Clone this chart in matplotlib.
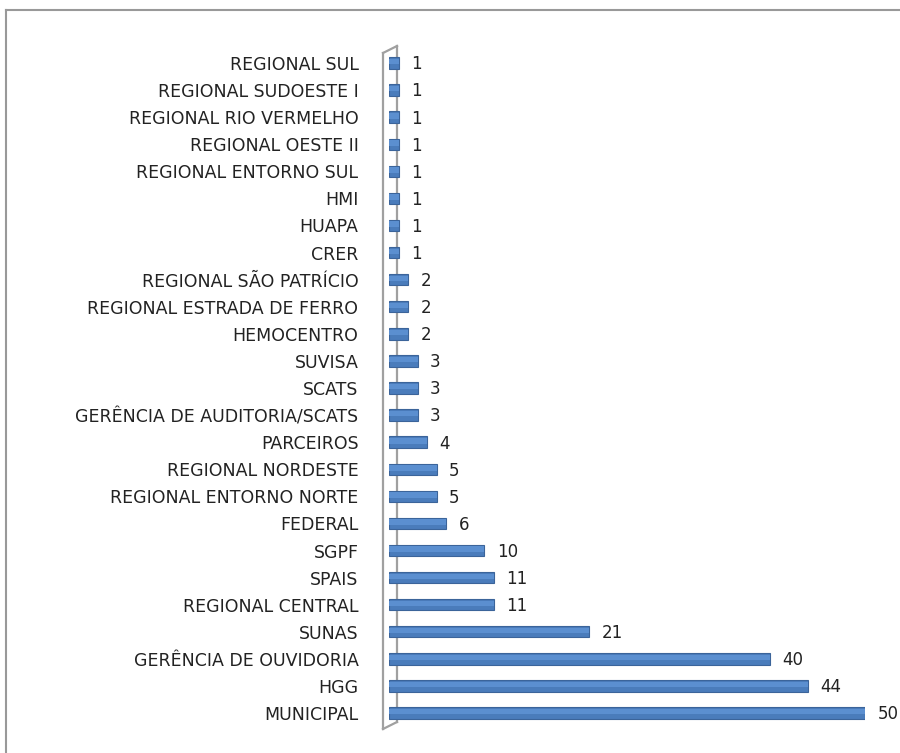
import matplotlib.pyplot as plt
from matplotlib.lines import Line2D

categories = [
    "MUNICIPAL", "HGG", "GERÊNCIA DE OUVIDORIA", "SUNAS", "REGIONAL CENTRAL",
    "SPAIS", "SGPF", "FEDERAL", "REGIONAL ENTORNO NORTE", "REGIONAL NORDESTE",
    "PARCEIROS", "GERÊNCIA DE AUDITORIA/SCATS", "SCATS", "SUVISA", "HEMOCENTRO",
    "REGIONAL ESTRADA DE FERRO", "REGIONAL SÃO PATRÍCIO", "CRER", "HUAPA", "HMI",
    "REGIONAL ENTORNO SUL", "REGIONAL OESTE II", "REGIONAL RIO VERMELHO",
    "REGIONAL SUDOESTE I", "REGIONAL SUL",
]
values = [50, 44, 40, 21, 11, 11, 10, 6, 5, 5, 4, 3, 3, 3, 2, 2, 2, 1, 1, 1, 1, 1, 1, 1, 1]

plt.rcParams["font.family"] = ["DejaVu Sans"]

W, H = 900, 753
fig = plt.figure(figsize=(W / 100, H / 100), dpi=100)

# axes placed so that 0 sits at x=389px and 50 at x=865px
x0, x50 = 389, 865
y_top, y_bot = 63, 713
step = (y_bot - y_top) / (len(categories) - 1)
ax = fig.add_axes([x0 / W, (H - (y_bot + 0.7 * step)) / H,
                   (x50 - x0) / W, (y_bot - y_top + 1.4 * step) / H])

pos = range(len(categories))
ax.barh(pos, values, height=0.42, color="#4a7cbb", edgecolor="#3b649a", linewidth=0.8, zorder=3)
ax.barh([p + 0.05 for p in pos], values, height=0.2, color="#5b8fd0", linewidth=0, zorder=4)

for p, v in zip(pos, values):
    ax.annotate(str(v), (v, p), xytext=(9, -1), textcoords="offset points",
                va="center", ha="left", fontsize=12, color="#222222", annotation_clip=False)

ax.set_xlim(0, 50)
ax.set_ylim(-0.7, len(categories) - 0.3)
ax.set_yticks(list(pos))
ax.set_yticklabels(categories, fontsize=12.5, color="#222222")
ax.tick_params(axis="y", length=0, pad=22)
ax.set_xticks([])
for s in ax.spines.values():
    s.set_visible(False)
ax.patch.set_visible(False)

# 3D wall outline and chart border in pixel coordinates, kept behind the bars
def px_line(xs, ys, **kw):
    fig.add_artist(Line2D([x / W for x in xs], [1 - y / H for y in ys],
                          transform=fig.transFigure, zorder=-1, **kw))

wall = dict(color="#a0a0a0", linewidth=1.6)
px_line([383, 383], [53, 729], **wall)
px_line([383, 397], [53, 46], **wall)
px_line([397, 397], [46, 722], **wall)
px_line([383, 397], [729, 722], **wall)
px_line([6, 6], [H, 10], color="#999999", linewidth=1.5)
px_line([6, W], [10, 10], color="#999999", linewidth=1.5)

fig.savefig("out.png", dpi=100)
